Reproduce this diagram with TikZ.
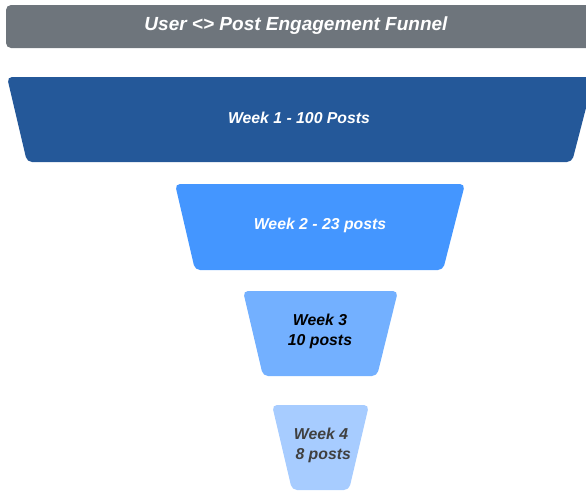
\documentclass[tikz,border=0pt]{standalone}
\usepackage{fontspec}
\setmainfont{Liberation Sans}
\usetikzlibrary{calc}
\definecolor{barGray}{RGB}{110,117,124}
\definecolor{wkOne}{RGB}{36,88,153}
\definecolor{wkTwo}{RGB}{68,150,255}
\definecolor{wkThree}{RGB}{115,176,255}
\definecolor{wkFour}{RGB}{167,204,255}
\definecolor{txtDark}{RGB}{64,64,64}
\tikzset{every picture/.style={line width=0.75pt}}
\tikzset{
  stage/.style={rounded corners=5pt},
  stagetext/.style={inner sep=0.75pt, align=center, font=\fontsize{15.8}{20}\selectfont\bfseries\itshape}
}

\begin{document}
\begin{tikzpicture}[x=1pt,y=1pt,yscale=-1,xscale=1]
\useasboundingbox (0,0) rectangle (586,491);

%Rounded Rect: title bar
\fill [barGray, rounded corners=5pt] (6,5) rectangle (596,48);
%Shape: Trapezoid week 1
\fill [wkOne, stage] (7,77) -- (594,77) -- (572,162) -- (27,162) -- cycle;
%Shape: Trapezoid week 2
\fill [wkTwo, stage] (175,184) -- (465,184) -- (443,270) -- (195,270) -- cycle;
%Shape: Trapezoid week 3
\fill [wkThree, stage] (243,291) -- (398,291) -- (377,376) -- (263,376) -- cycle;
%Shape: Trapezoid week 4
\fill [wkFour, stage] (272,405) -- (369,405) -- (349,490) -- (292,490) -- cycle;

% Text Node
\node (title) at (296,25.5) [inner sep=0.75pt, text=white, font=\fontsize{19}{23}\selectfont\bfseries\itshape] {User <> Post Engagement Funnel};
% Text Node
\node (wk1) at (299,117.5) [stagetext, text=white] {Week 1 - 100 Posts};
% Text Node
\node (wk2) at (320,225.5) [stagetext, text=white] {Week 2 - 23 posts};
% Text Node
\node (wk3) at (320,331.5) [stagetext, text=black] {Week 3\\10 posts};
% Text Node
\node (wk4) at (321,445.5) [stagetext, text=txtDark] {Week 4\\\ 8 posts};

\end{tikzpicture}
\end{document}
